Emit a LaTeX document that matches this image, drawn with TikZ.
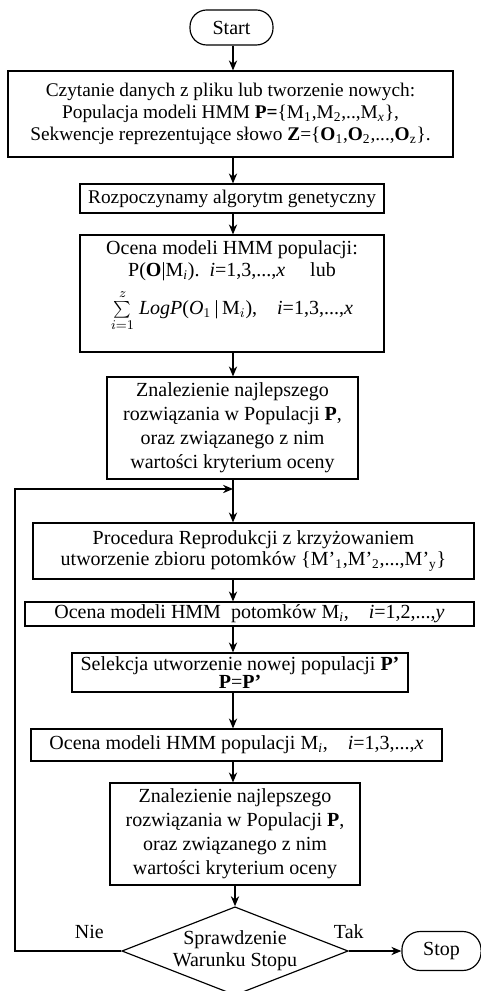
\documentclass[tikz,border=0pt]{standalone}
\usepackage{fontspec}
\setmainfont{Liberation Serif}
\usepackage{tikz}
\usetikzlibrary{arrows.meta,positioning,shapes.geometric}

\begin{document}
\begin{tikzpicture}[
  x=0.6pt, y=-0.6pt,
  font=\fontsize{12}{13}\selectfont,
  box/.style={rectangle,draw,line width=0.7pt,inner sep=0pt,align=center},
  term/.style={box,rounded corners=10pt},
  arr/.style={-{Stealth[length=6pt,width=5pt]},line width=0.7pt},
]
\useasboundingbox (0,0) rectangle (481,991);
\coordinate (col) at (233,0);

\node[term,minimum width=49.8pt,minimum height=21pt] (start) at (231.5,27.5) {Start};
\node[box,minimum width=267pt,minimum height=51.6pt,font=\fontsize{11.6}{13}\selectfont] (read) at (230.5,114)
  {Czytanie danych z pliku lub tworzenie nowych:\\
   Populacja modeli HMM \textbf{P=}\{M\textsubscript{1},M\textsubscript{2},..,M\textsubscript{\textit{x}}\},\\
   Sekwencje reprezentujące słowo \textbf{Z}=\{\textbf{O}\textsubscript{1},\textbf{O}\textsubscript{2},...,\textbf{O}\textsubscript{z}\}.};
\node[box,minimum width=182.4pt,minimum height=17.4pt,font=\fontsize{11.6}{13}\selectfont] (ga) at (232,198.5) {Rozpoczynamy algorytm genetyczny};
\node[box,minimum width=182.4pt,minimum height=70.2pt] (eval) at (232,293.5)
  {Ocena modeli HMM populacji:\\
   P(\textbf{O}|M\textsubscript{\textit{i}}).\ \ \textit{i}=1,3,...,\textit{x}\quad\ lub\\[5pt]
   $\sum\limits_{i=1}^{z}$\ \textit{LogP}(\textit{O}$_1$\,|\,M$_i$),\quad \textit{i}=1,3,...,\textit{x}\\[6pt]};
\node[box,minimum width=150.6pt,minimum height=61.2pt,font=\fontsize{12}{14.4}\selectfont] (best) at (232.5,428)
  {Znalezienie najlepszego\\ rozwiązania w Populacji \textbf{P},\\ oraz związanego z nim\\ wartości kryterium oceny};
\node[box,minimum width=264.6pt,minimum height=33.6pt] (repro) at (253.5,551)
  {Procedura Reprodukcji z krzyżowaniem\\
   utworzenie zbioru potomków \{M’\textsubscript{1},M’\textsubscript{2},...,M’\textsubscript{y}\}};
\node[box,minimum width=269.4pt,minimum height=14.4pt] (evalkids) at (249.5,614)
  {Ocena modeli HMM\ \ potomków M\textsubscript{\textit{i}},\quad \textit{i}=1,2,...,\textit{y}};
\node[box,minimum width=201.6pt,minimum height=23.4pt,font=\fontsize{12}{11}\selectfont] (select) at (240,672.5)
  {Selekcja utworzenie nowej populacji \textbf{P’}\\ \textbf{P}=\textbf{P’}};
\node[box,minimum width=246.6pt,minimum height=19.2pt] (evalpop) at (236.5,745)
  {Ocena modeli HMM populacji M\textsubscript{\textit{i}},\quad \textit{i}=1,3,...,\textit{x}};
\node[box,minimum width=150pt,minimum height=61.2pt,font=\fontsize{12}{14.4}\selectfont] (best2) at (235,834)
  {Znalezienie najlepszego\\ rozwiązania w Populacji \textbf{P},\\ oraz związanego z nim\\ wartości kryterium oceny};
\node[diamond,draw,line width=0.7pt,inner sep=0pt,aspect=2.56,minimum width=132pt,minimum height=51.6pt,align=center] (check) at (235,951)
  {Sprawdzenie\\ Warunku Stopu};
\node[term,minimum width=47.5pt,minimum height=23.4pt,rounded corners=11pt] (stop) at (441.5,951) {Stop};

\coordinate (join) at (233,489);
\coordinate (back) at (15,951);

\draw[arr] (start.south -| col) -- (read.north -| col);
\draw[arr] (read.south -| col) -- (ga.north -| col);
\draw[arr] (ga.south -| col) -- (eval.north -| col);
\draw[arr] (eval.south -| col) -- (best.north -| col);
\draw[line width=0.7pt] (best.south -| col) -- (join);
\draw[arr] (join) -- (repro.north -| col);
\draw[arr] (repro.south -| col) -- (evalkids.north -| col);
\draw[arr] (evalkids.south -| col) -- (select.north -| col);
\draw[arr] (select.south -| col) -- (evalpop.north -| col);
\draw[arr] (evalpop.south -| col) -- (best2.north -| col);
\draw[arr] (best2.south -| check) -- (check.north);
\draw[arr] (check.east) -- node[pos=0,above=4pt] {Tak} (stop.west);
\draw[arr] (check.west) -- node[pos=0.3,above=4pt] {Nie} (back) |- (join);
\end{tikzpicture}
\end{document}
